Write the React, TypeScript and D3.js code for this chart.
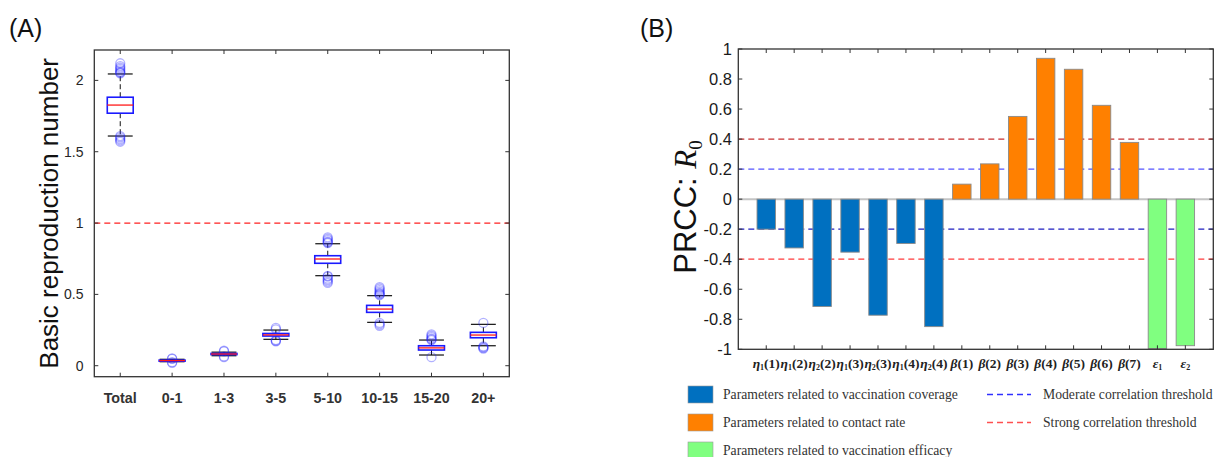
import React from "react";
import * as d3 from "d3";

// ---- Panel A data (boxplot of R0 by age group) ----
const ageGroups = ["Total", "0-1", "1-3", "3-5", "5-10", "10-15", "15-20", "20+"];
const q1 = [1.77, 0.033, 0.078, 0.208, 0.718, 0.374, 0.11, 0.196];
const medians = [1.827, 0.036, 0.082, 0.216, 0.748, 0.397, 0.125, 0.215];
const q3 = [1.882, 0.039, 0.086, 0.226, 0.771, 0.423, 0.14, 0.234];
const whiskerLow = [1.61, 0.028, 0.07, 0.185, 0.631, 0.304, 0.075, 0.14];
const whiskerHigh = [2.045, 0.045, 0.095, 0.25, 0.855, 0.491, 0.18, 0.29];
const outliers = [
  [2.05, 2.055, 2.06, 2.07, 2.08, 2.09, 2.1, 2.12, 1.61, 1.6, 1.59, 1.58, 1.57],
  [0.02, 0.025, 0.048, 0.052],
  [0.06, 0.065, 0.1, 0.105],
  [0.17, 0.175, 0.18, 0.255, 0.265],
  [0.86, 0.865, 0.87, 0.88, 0.89, 0.9, 0.63, 0.625, 0.61, 0.6, 0.59, 0.58],
  [0.495, 0.5, 0.505, 0.51, 0.52, 0.53, 0.54, 0.55, 0.3, 0.29, 0.28],
  [0.18, 0.185, 0.19, 0.2, 0.21, 0.22, 0.06],
  [0.3, 0.135, 0.13, 0.125, 0.12],
];
const yTicksA = [0, 0.5, 1, 1.5, 2];
const thresholdA = 1;

// ---- Panel B data (PRCC) ----
const paramSymbols = ["η", "η", "η", "η", "η", "η", "η", "β", "β", "β", "β", "β", "β", "β", "ε", "ε"];
const paramSubs = ["1", "1", "2", "1", "2", "1", "2", "", "", "", "", "", "", "", "1", "2"];
const paramArgs = ["(1)", "(2)", "(2)", "(3)", "(3)", "(4)", "(4)", "(1)", "(2)", "(3)", "(4)", "(5)", "(6)", "(7)", "", ""];
const paramGroups = [0, 0, 0, 0, 0, 0, 0, 1, 1, 1, 1, 1, 1, 1, 2, 2];
const prccValues = [-0.2, -0.325, -0.715, -0.353, -0.773, -0.295, -0.849, 0.1, 0.235, 0.551, 0.938, 0.865, 0.625, 0.378, -0.995, -0.976];
const yTicksB = [-1, -0.8, -0.6, -0.4, -0.2, 0, 0.2, 0.4, 0.6, 0.8, 1];
const groupColors = ["#0070c0", "#ff8000", "#80ff80"];
const groupNames = [
  "Parameters related to vaccination coverage",
  "Parameters related to contact rate",
  "Parameters related to vaccination efficacy",
];
const thresholds = [
  { value: 0.2, color: "#5555ff" },
  { value: -0.2, color: "#1f1fc0" },
  { value: 0.4, color: "#c83030" },
  { value: -0.4, color: "#ff3b3b" },
];
const lineLegend = [
  { name: "Moderate correlation threshold", color: "#3030ff" },
  { name: "Strong correlation threshold", color: "#ff5050" },
];

const sans = "'Liberation Sans', Arial, sans-serif";
const serif = "'Liberation Serif', 'Times New Roman', serif";

function PanelA() {
  const left = 94.3, right = 509.3, top = 50, bottom = 376.7;
  const x = d3.scaleBand<string>().domain(ageGroups).range([left, right]);
  const y = d3.scaleLinear().domain([-0.077, 2.213]).range([bottom, top]);
  const bw = x.bandwidth();
  const boxW = bw * 0.5;
  const capW = bw * 0.24;
  return (
    <g>
      <text x={9} y={37} fontFamily={sans} fontSize={25} fill="#111">(A)</text>
      <text
        transform={`translate(58,${(y(-0.077) + y(2.213)) / 2}) rotate(-90)`}
        textAnchor="middle"
        fontFamily={sans}
        fontSize={26}
        fill="#111"
      >
        Basic reproduction number
      </text>
      {/* threshold */}
      <line x1={left} x2={right} y1={y(thresholdA)} y2={y(thresholdA)} stroke="#ff2020" strokeWidth={1.3} strokeDasharray="6,4" />
      {/* boxes */}
      {ageGroups.map((g, i) => {
        const cx = (x(g) as number) + bw / 2;
        return (
          <g key={g}>
            <line x1={cx} x2={cx} y1={y(q3[i])} y2={y(whiskerHigh[i])} stroke="#111" strokeWidth={1} strokeDasharray="5,3" />
            <line x1={cx} x2={cx} y1={y(q1[i])} y2={y(whiskerLow[i])} stroke="#111" strokeWidth={1} strokeDasharray="5,3" />
            <line x1={cx - capW} x2={cx + capW} y1={y(whiskerHigh[i])} y2={y(whiskerHigh[i])} stroke="#111" strokeWidth={1.2} />
            <line x1={cx - capW} x2={cx + capW} y1={y(whiskerLow[i])} y2={y(whiskerLow[i])} stroke="#111" strokeWidth={1.2} />
            {outliers[i].map((v, k) => (
              <circle key={k} cx={cx} cy={y(v)} r={4.5} fill="none" stroke="#2020ff" strokeOpacity={0.35} strokeWidth={1.3} />
            ))}
            <rect
              x={cx - boxW / 2}
              y={y(q3[i])}
              width={boxW}
              height={Math.max(y(q1[i]) - y(q3[i]), 1)}
              fill="white"
              stroke="#1a1aff"
              strokeWidth={1.6}
            />
            <line x1={cx - boxW / 2} x2={cx + boxW / 2} y1={y(medians[i])} y2={y(medians[i])} stroke="#ff1a1a" strokeWidth={1.3} />
          </g>
        );
      })}
      {/* frame and ticks */}
      <rect x={left} y={top} width={right - left} height={bottom - top} fill="none" stroke="#333" strokeWidth={1.3} />
      {ageGroups.map((g) => {
        const cx = (x(g) as number) + bw / 2;
        return (
          <g key={"t" + g}>
            <line x1={cx} x2={cx} y1={top} y2={top + 4} stroke="#333" />
            <line x1={cx} x2={cx} y1={bottom} y2={bottom - 4} stroke="#333" />
            <text x={cx} y={403} textAnchor="middle" fontFamily={sans} fontWeight="bold" fontSize={14.3} fill="#333">
              {g}
            </text>
          </g>
        );
      })}
      {yTicksA.map((t) => (
        <g key={"y" + t}>
          <line x1={left} x2={left + 4} y1={y(t)} y2={y(t)} stroke="#333" />
          <line x1={right} x2={right - 4} y1={y(t)} y2={y(t)} stroke="#333" />
          <text x={83.5} y={y(t) + 5} textAnchor="end" fontFamily={sans} fontSize={14} fill="#262626">
            {d3.format("")(t)}
          </text>
        </g>
      ))}
    </g>
  );
}

function PanelB() {
  const left = 738.3, right = 1213.3, top = 49, bottom = 349.3;
  const x = d3.scaleLinear().domain([0, 17]).range([left, right]);
  const y = d3.scaleLinear().domain([-1, 1]).range([bottom, top]);
  const barW = (x(1) - x(0)) * 0.66;
  return (
    <g>
      <text x={640} y={37} fontFamily={sans} fontSize={25} fill="#111">(B)</text>
      <text transform={`translate(696,207) rotate(-90)`} textAnchor="middle" fill="#111">
        <tspan fontFamily={sans} fontSize={31}>PRCC: </tspan>
        <tspan fontFamily={serif} fontStyle="italic" fontSize={31}>R</tspan>
        <tspan fontFamily={serif} fontSize={19} dy={6}>0</tspan>
      </text>
      {thresholds.map((t) => (
        <line key={t.value} x1={left} x2={right} y1={y(t.value)} y2={y(t.value)} stroke={t.color} strokeWidth={1.2} strokeDasharray="6,4" />
      ))}
      <line x1={left} x2={right} y1={y(0)} y2={y(0)} stroke="#c4c4c4" strokeWidth={2} />
      {prccValues.map((v, i) => (
        <rect
          key={i}
          x={x(i + 1) - barW / 2}
          y={y(Math.max(v, 0))}
          width={barW}
          height={Math.abs(y(v) - y(0))}
          fill={groupColors[paramGroups[i]]}
          stroke="#8a8a8a"
          strokeWidth={0.9}
        />
      ))}
      <rect x={left} y={top} width={right - left} height={bottom - top} fill="none" stroke="#333" strokeWidth={1.3} />
      {prccValues.map((_, i) => (
        <g key={"t" + i}>
          <line x1={x(i + 1)} x2={x(i + 1)} y1={top} y2={top + 4} stroke="#333" />
          <line x1={x(i + 1)} x2={x(i + 1)} y1={bottom} y2={bottom - 4} stroke="#333" />
          <text x={x(i + 1)} y={367.5} textAnchor="middle" fontFamily={serif} fontWeight="bold" fontSize={13.5} fill="#222">
            <tspan fontStyle="italic">{paramSymbols[i]}</tspan>
            {paramSubs[i] && (
              <tspan fontSize={8} dy={2.5}>{paramSubs[i]}</tspan>
            )}
            {paramArgs[i] && <tspan dy={paramSubs[i] ? -2.5 : 0}>{paramArgs[i]}</tspan>}
          </text>
        </g>
      ))}
      {yTicksB.map((t) => (
        <g key={"y" + t}>
          <line x1={left} x2={left + 4} y1={y(t)} y2={y(t)} stroke="#333" />
          <line x1={right} x2={right - 4} y1={y(t)} y2={y(t)} stroke="#333" />
          <text x={732} y={y(t) + 6} textAnchor="end" fontFamily={sans} fontSize={16.5} fill="#1a1a1a">
            {d3.format("")(t).replace("−", "-")}
          </text>
        </g>
      ))}
      {/* legend */}
      {groupNames.map((n, i) => (
        <g key={n}>
          <rect x={688} y={386 + i * 28} width={25} height={17} fill={groupColors[i]} stroke="#999" strokeWidth={0.6} />
          <text x={723} y={399 + i * 28} fontFamily={serif} fontSize={13.7} fill="#333">{n}</text>
        </g>
      ))}
      {lineLegend.map((l, i) => (
        <g key={l.name}>
          <line x1={987} x2={1031} y1={394.5 + i * 28} y2={394.5 + i * 28} stroke={l.color} strokeWidth={1.3} strokeDasharray="6,4" />
          <text x={1043} y={399 + i * 28} fontFamily={serif} fontSize={13.7} fill="#333">{l.name}</text>
        </g>
      ))}
    </g>
  );
}

export default function App() {
  return (
    <svg
      width={1215}
      height={457}
      style={{ position: "absolute", left: 0, top: 0, background: "white" }}
    >
      <PanelA />
      <PanelB />
    </svg>
  );
}
